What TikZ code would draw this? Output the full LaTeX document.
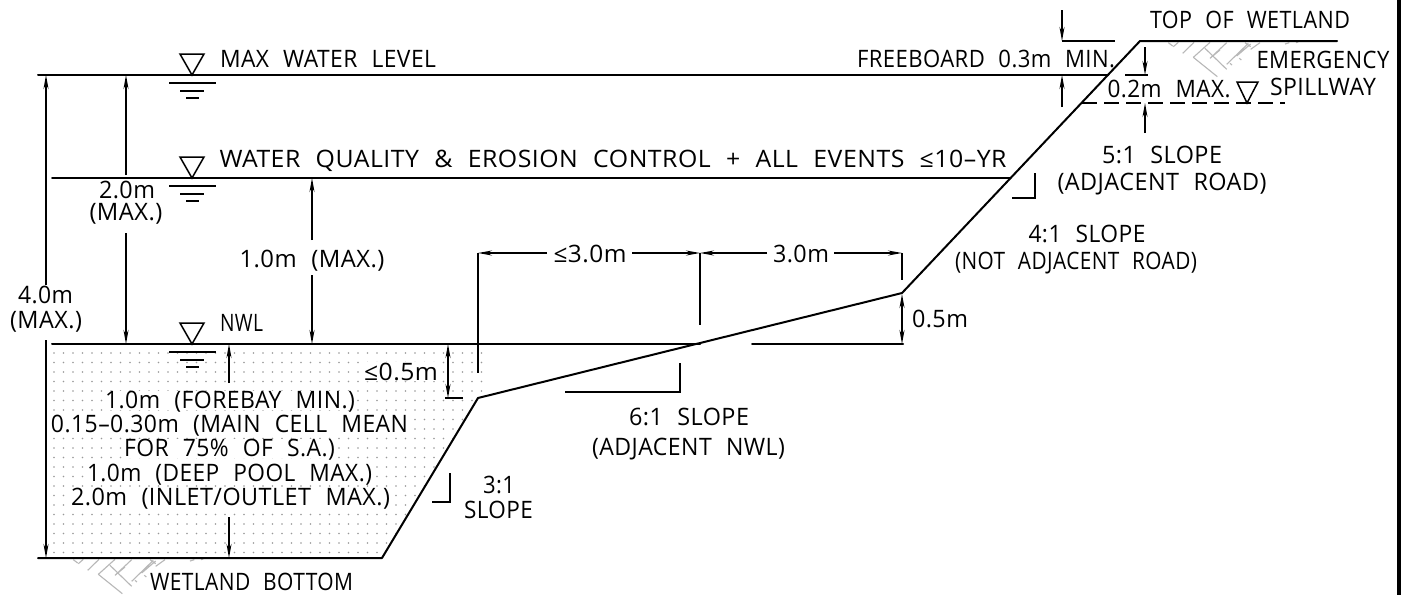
\documentclass[tikz,border=0pt]{standalone}
\usepackage{graphicx}
\usepackage{fontspec}
\setmainfont[LetterSpace=2,WordSpace=2.2]{Open Sans}
\usetikzlibrary{arrows.meta}
\newsavebox\fitbox
\newcommand\fitw[2]{\sbox\fitbox{#2}\pgfmathsetmacro\fitr{#1/\wd\fitbox}\scalebox{\fitr}[1]{\usebox\fitbox}}
\tikzset{
  main/.style={line width=2pt,line cap=round,black},
  thin/.style={line width=1.4pt,black},
  dim/.style={line width=1.4pt,black,-{Stealth[length=14pt,width=5pt]}},
  ddim/.style={line width=1.4pt,black,{Stealth[length=14pt,width=5pt]}-{Stealth[length=14pt,width=5pt]}},
  lbl/.style={inner sep=0pt,anchor=base,font=\fontsize{24}{26}\selectfont,text=black},
  hatchline/.style={line width=1.1pt,black!28},
  wl/.pic={
    \draw[line width=1.5pt,line join=miter] (-12,-21) -- (12,-21) -- (0,0) -- cycle;
    \draw[line width=1.5pt] (-23,8) -- (24,8) (-12,16) -- (12,16) (-6,23) -- (7,23);
  },
  hatchmotif/.pic={
    \begin{scope}[x=0.3333pt,y=-0.3333pt]
    \draw[hatchline]
      (115,38)--(128,48) (130,50)--(145,37) (158,70)--(192,37) (190,82)--(240,37)
      (240,85)--(290,38) (290,103)--(355,40) (190,82)--(262,140) (225,55)--(290,118)
      (240,85)--(270,60) (320,78)--(362,42) (362,58)--(390,38) (345,38)--(362,50)
      (465,42)--(478,38) (498,38)--(505,36) (300,100)--(306,105) (328,85)--(334,90);
    \end{scope}
  }
}
\begin{document}
\begin{tikzpicture}[x=1pt,y=-1pt]
\useasboundingbox (0,0) rectangle (1405,595);
\fill[white] (0,0) rectangle (1405,595);
% dots
\begin{scope}
\clip (52,346) -- (700,346) -- (478,398) -- (382,558) -- (52,558) -- cycle;
\foreach \i in {0,...,21} \foreach \j in {0,...,45}
  \fill[black!40] ({54+9.5*\j},{353+9.5*\i}) circle (0.8pt);
\fill[white] (105,391) rectangle (356,410) (51,415) rectangle (408,434) (124,439) rectangle (336,458)
  (87,464) rectangle (373,483) (71,488) rectangle (390,507) (364,362) rectangle (438,381);
\end{scope}
% hatch
\pic at (1130,30) {hatchmotif};
\pic at (35,547) {hatchmotif};
% profile
\coordinate (bl) at (38,558);
\coordinate (toe) at (382,558);
\coordinate (bench) at (478,398);
\coordinate (brk) at (902,293);
\coordinate (top) at (1140,41);
\coordinate (topr) at (1337,41);
\draw[main,line join=round] (bl) -- (toe) -- (bench) -- (brk) -- (top) -- (topr);
\draw[main] (38,75) -- (1108,75);
\draw[main,line width=1.7pt] (52,178) -- (1010,178);
\draw[main] (52,344) -- (700,344);
\draw[main] (752,344) -- (903,344);
\draw[thin,dash pattern=on 15pt off 7pt] (1082,103) -- (1285,103);
\fill (1397,0) rectangle (1401,595);
% water levels
\pic at (192,75) {wl};
\pic at (192,178) {wl};
\pic at (192,344) {wl};
\draw[line width=1.5pt,line join=miter] (1237,82) -- (1258,82) -- (1247,103) -- cycle;
% dims
\draw[dim] (46,285) -- (46,75);
\draw[dim] (46,340) -- (46,558);
\draw[dim] (126,175) -- (126,75);
\draw[dim] (126,233) -- (126,344);
\draw[dim] (312,240) -- (312,178);
\draw[dim] (312,275) -- (312,344);
\draw[dim] (229,383) -- (229,344);
\draw[dim] (229,517) -- (229,558);
\draw[ddim] (448,344) -- (448,398);
\draw[thin] (445,398) -- (463,398);
\draw[thin] (478,253) -- (478,373);
\draw[thin] (700,253) -- (700,325);
\draw[thin] (902,253) -- (902,280);
\draw[dim] (547,253) -- (478,253);
\draw[dim] (632,253) -- (700,253);
\draw[dim] (767,253) -- (700,253);
\draw[dim] (834,253) -- (902,253);
\draw[ddim] (902,294) -- (902,344);
\draw[thin] (565,392) -- (680,392) -- (680,363);
\draw[thin] (1012,198) -- (1035,198) -- (1035,173);
\draw[thin] (432,502) -- (450,502) -- (450,473);
\draw[dim] (1062,10) -- (1062,41);
\draw[thin] (1062,41) -- (1115,41);
\draw[dim] (1062,107) -- (1062,75);
\draw[dim] (1145,47) -- (1145,75);
\draw[thin] (1125,75) -- (1148,75);
\draw[dim] (1145,133) -- (1145,103);
% labels
\node[lbl] (t1) at (328,67) {\fitw{216}{MAX WATER LEVEL}};
\node[lbl] (t2) at (613,167) {\fitw{787}{WATER QUALITY \& EROSION CONTROL + ALL EVENTS ≤10–YR}};
\node[lbl] (t3) at (986,67) {\fitw{258}{FREEBOARD 0.3m MIN.}};
\node[lbl] (t4) at (1250,28) {\fitw{200}{TOP OF WETLAND}};
\node[lbl] (t5) at (1323,68) {\fitw{133}{EMERGENCY}};
\node[lbl] (t6) at (1323,95) {\fitw{106}{SPILLWAY}};
\node[lbl] (t7) at (1169,97) {\fitw{123}{0.2m MAX.}};
\node[lbl] (t8) at (1162,163) {\fitw{120}{5:1 SLOPE}};
\node[lbl] (t9) at (1162,190) {\fitw{209}{(ADJACENT ROAD)}};
\node[lbl] (t10) at (1087,242) {\fitw{117}{4:1 SLOPE}};
\node[lbl] (t11) at (1076,269) {\fitw{242}{(NOT ADJACENT ROAD)}};
\node[lbl] (t12) at (127,198) {\fitw{56}{2.0m}};
\node[lbl] (t13) at (126,220) {\fitw{73}{(MAX.)}};
\node[lbl] (t14) at (312,267) {\fitw{145}{1.0m (MAX.)}};
\node[lbl] (t15) at (45.5,303) {\fitw{55}{4.0m}};
\node[lbl] (t16) at (46,328) {\fitw{72}{(MAX.)}};
\node[lbl] (t17) at (241.5,331) {\fitw{43}{NWL}};
\node[lbl] (t18) at (230,408) {\fitw{250}{1.0m (FOREBAY MIN.)}};
\node[lbl] (t19) at (229.5,432) {\fitw{357}{0.15–0.30m (MAIN CELL MEAN}};
\node[lbl] (t20) at (229.5,456) {\fitw{211}{FOR 75\% OF S.A.)}};
\node[lbl] (t21) at (229.5,481) {\fitw{285}{1.0m (DEEP POOL MAX.)}};
\node[lbl] (t22) at (230.5,505) {\fitw{319}{2.0m (INLET/OUTLET MAX.)}};
\node[lbl] (t23) at (251.5,590) {\fitw{203}{WETLAND BOTTOM}};
\node[lbl] (t24) at (401,380) {\fitw{74}{≤0.5m}};
\node[lbl] (t25) at (499,493) {\fitw{32}{3:1}};
\node[lbl] (t26) at (498.5,518) {\fitw{69}{SLOPE}};
\node[lbl] (t27) at (689,425) {\fitw{120}{6:1 SLOPE}};
\node[lbl] (t28) at (688.5,455) {\fitw{193}{(ADJACENT NWL)}};
\node[lbl] (t29) at (590,262) {\fitw{73}{≤3.0m}};
\node[lbl] (t30) at (801,262) {\fitw{56}{3.0m}};
\node[lbl] (t31) at (940,327) {\fitw{56}{0.5m}};
\end{tikzpicture}
\end{document}
